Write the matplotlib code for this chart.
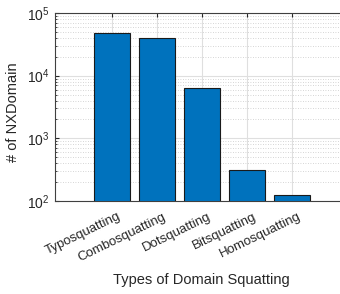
import numpy as np
import matplotlib
matplotlib.use('Agg')
import matplotlib.pyplot as plt
import matplotlib.transforms as mtransforms
from matplotlib.ticker import LogLocator, NullFormatter

categories = ['Typosquatting', 'Combosquatting', 'Dotsquatting', 'Bitsquatting', 'Homosquatting']
counts = [47500, 40500, 6300, 318, 127]

plt.rcParams['font.family'] = ['Liberation Sans', 'DejaVu Sans']
plt.rcParams['mathtext.fontset'] = 'custom'
plt.rcParams['mathtext.rm'] = 'Liberation Sans'

fig = plt.figure(figsize=(3.4, 2.94), dpi=100)
# axes runs past the right edge of the figure, like the cropped original
ax = fig.add_axes([0.163, 0.316, 0.860, 0.640])

x = np.arange(1, len(categories) + 1)
ax.bar(x, counts, width=0.8, color='#0072BD', edgecolor='#1a1a1a', linewidth=0.8, zorder=3)

ax.set_yscale('log')
ax.set_ylim(1e2, 1e5)
ax.set_xlim(-0.25, 6.25)
ax.set_xticks(x)
ax.set_xticklabels(categories, rotation=26, ha='right', rotation_mode='anchor', fontsize=9.5, color='#262626')
ax.yaxis.set_major_locator(LogLocator(base=10, numticks=10))
ax.yaxis.set_minor_locator(LogLocator(base=10, subs=np.arange(2, 10), numticks=10))
ax.yaxis.set_minor_formatter(NullFormatter())
ax.tick_params(axis='y', labelsize=10, colors='#262626')

ax.grid(True, which='major', color='#dfdfdf', linewidth=0.8, zorder=0)
ax.grid(True, which='minor', axis='y', color='#c8c8c8', linestyle=(0, (1, 2)), linewidth=0.6, zorder=0)
ax.set_axisbelow(True)

ax.tick_params(which='both', direction='in', top=True, right=True, color='#262626')
ax.tick_params(which='major', length=3, pad=4)
ax.tick_params(which='minor', length=1.5)
for s in ax.spines.values():
    s.set_color('#404040')
    s.set_linewidth(0.8)

# nudge the rotated labels right/down like matlab places them
shift = mtransforms.ScaledTranslation(0.06, -0.04, fig.dpi_scale_trans)
for lbl in ax.xaxis.get_majorticklabels():
    lbl.set_transform(lbl.get_transform() + shift)

ax.set_ylabel('# of NXDomain', fontsize=10.5, color='#262626', labelpad=0.5)
ax.yaxis.set_label_coords(-0.12, 0.47)
ax.set_xlabel('Types of Domain Squatting', fontsize=10.5, color='#262626', labelpad=7)

fig.savefig('out.png', dpi=100)
